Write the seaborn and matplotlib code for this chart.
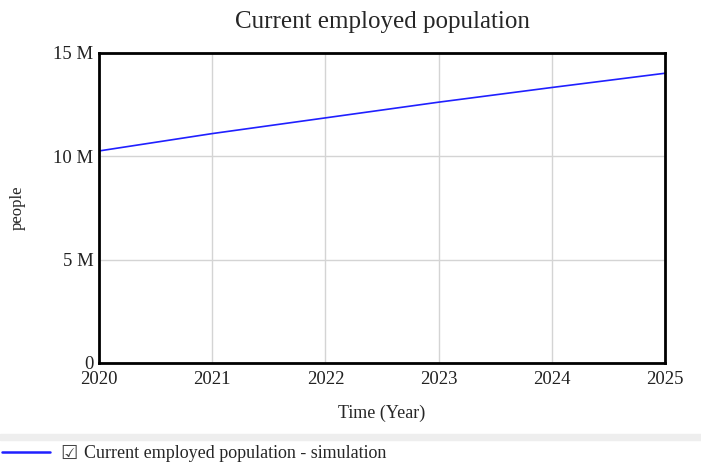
import numpy as np
import pandas as pd
import matplotlib
matplotlib.use("Agg")
import matplotlib.pyplot as plt
import seaborn as sns

years = [2020, 2021, 2022, 2023, 2024, 2025]
employed = [10.26e6, 11.1e6, 11.86e6, 12.62e6, 13.33e6, 14.02e6]
y_ticks = [0, 5e6, 10e6, 15e6]
y_labels = ["0", "5 M", "10 M", "15 M"]

sns.set_style("whitegrid")
plt.rcParams['font.family'] = ['Liberation Serif', 'DejaVu Sans']

df = pd.DataFrame({"year": years, "people": employed})

fig = plt.figure(figsize=(7.01, 4.62), dpi=100)
ax = fig.add_axes([0.1412, 0.2143, 0.8074, 0.671])
sns.lineplot(data=df, x="year", y="people", color="#2020ff", linewidth=1.2, ax=ax)

ax.set_xlim(2020, 2025)
ax.set_ylim(0, 15e6)
ax.set_yticks(y_ticks)
ax.set_yticklabels(y_labels)
ax.set_xticks(years)
ax.grid(True, color="#d4d4d4", linewidth=1)
for s in ax.spines.values():
    s.set_color("black")
    s.set_linewidth(2)
ax.tick_params(axis="both", length=0, labelsize=13.5, colors="#222222")
ax.tick_params(axis="x", pad=6)
ax.tick_params(axis="y", pad=4)
ax.set_xlabel("Time (Year)", fontsize=13, labelpad=12)
ax.set_ylabel("people", fontsize=12, labelpad=20)
ax.set_title("Current employed population", fontsize=18, pad=18)

# legend strip at the bottom
fig.add_artist(plt.Rectangle((0, 1 - 440 / 462), 1, 6 / 462, color="#eeeeee",
                             transform=fig.transFigure))
fig.add_artist(plt.Line2D([2 / 701, 50 / 701], [1 - 452 / 462] * 2, color="#2020ff",
                          linewidth=1.8, transform=fig.transFigure))
fig.text(60 / 701, 1 - 453 / 462, "\u2611", fontsize=14, va="center",
         family=["DejaVu Sans"], color="#444444")
fig.text(84 / 701, 1 - 453 / 462, "Current employed population - simulation",
         fontsize=13, va="center")

fig.savefig("out.png", dpi=100)
